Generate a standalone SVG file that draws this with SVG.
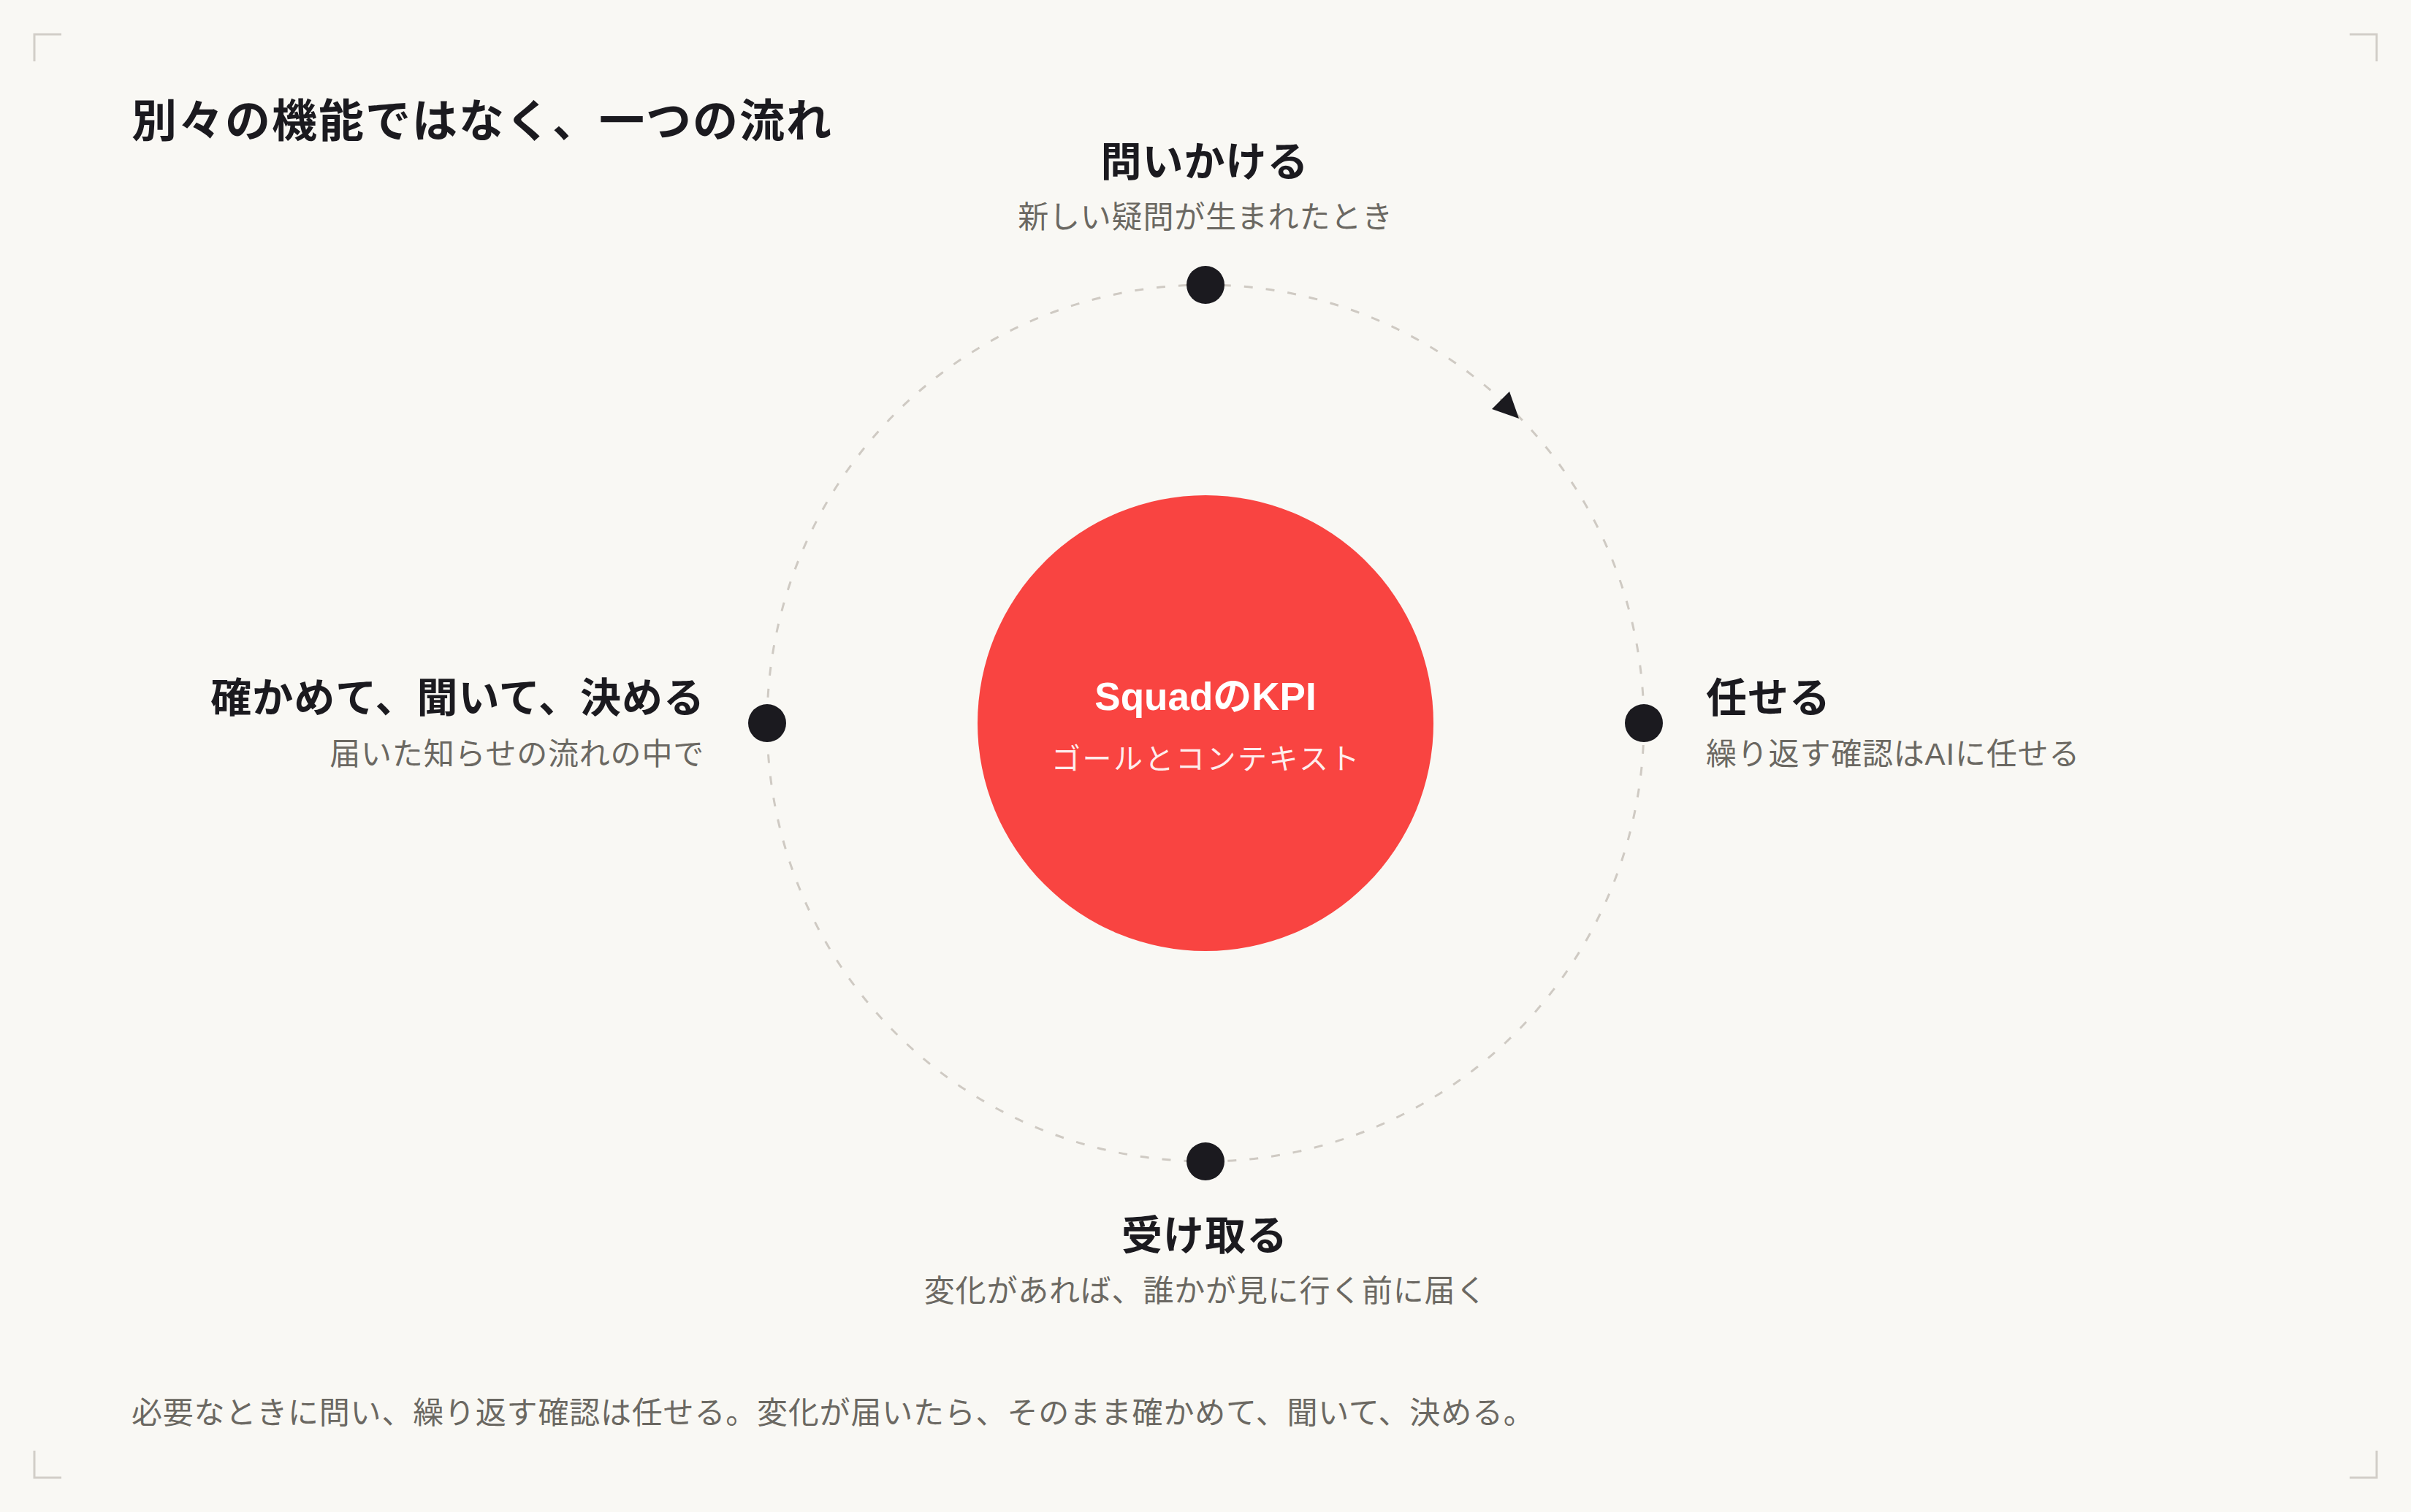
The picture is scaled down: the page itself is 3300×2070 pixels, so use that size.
<svg xmlns="http://www.w3.org/2000/svg" width="3300" height="2070" viewBox="0 0 3300 2070">
  <defs>
    <style>
      .bg { fill: #f9f8f4; }
      .corner { fill: none; stroke: #d2cec8; stroke-width: 3; }
      .ring { fill: none; stroke: #cfcac3; stroke-width: 3; stroke-dasharray: 12 18; }
      .dot { fill: #1b1a1f; }
      .arrow { fill: #1b1a1f; }
      .core { fill: #f94441; }
      .t { font-family: "Liberation Sans", "Noto Sans CJK JP", sans-serif; }
      .title { font-size: 62px; font-weight: 700; fill: #1b1a1f; letter-spacing: 2px; }
      .head { font-size: 56px; font-weight: 700; fill: #1b1a1f; letter-spacing: 1px; }
      .sub { font-size: 42px; font-weight: 400; fill: #6b6862; letter-spacing: 0.8px; }
      .coreTitle { font-size: 53px; font-weight: 700; fill: #ffffff; }
      .coreSub { font-size: 40px; font-weight: 400; fill: #ffffff; fill-opacity: 0.92; letter-spacing: 2.5px; }
      .caption { font-size: 42px; font-weight: 400; fill: #6b6862; letter-spacing: 0.8px; }
    </style>
  </defs>

  <rect class="bg" x="0" y="0" width="3300" height="2070"/>

  <g id="corners">
    <path class="corner" d="M47 84 V47 H84"/>
    <path class="corner" d="M3216 47 H3253 V84"/>
    <path class="corner" d="M47 1986 V2023 H84"/>
    <path class="corner" d="M3216 2023 H3253 V1986"/>
  </g>

  <text id="title" class="t title" x="180" y="188">別々の機能ではなく、一つの流れ</text>

  <g id="connectors">
    <circle class="ring" cx="1650" cy="990" r="600"/>
    <polygon class="arrow" points="2079,573 2066,536 2042,560"/>
  </g>

  <g id="core">
    <circle class="core" cx="1650" cy="990" r="312"/>
    <text class="t coreTitle" x="1650" y="972" text-anchor="middle">SquadのKPI</text>
    <text class="t coreSub" x="1651" y="1053" text-anchor="middle">ゴールとコンテキスト</text>
  </g>

  <g id="node-ask">
    <circle class="dot" cx="1650" cy="390" r="26"/>
    <text class="t head" x="1649" y="241" text-anchor="middle">問いかける</text>
    <text class="t sub" x="1650" y="312" text-anchor="middle">新しい疑問が生まれたとき</text>
  </g>

  <g id="node-delegate">
    <circle class="dot" cx="2250" cy="990" r="26"/>
    <text class="t head" x="2335" y="975">任せる</text>
    <text class="t sub" x="2335" y="1047">繰り返す確認はAIに任せる</text>
  </g>

  <g id="node-receive">
    <circle class="dot" cx="1650" cy="1590" r="26"/>
    <text class="t head" x="1649" y="1711" text-anchor="middle">受け取る</text>
    <text class="t sub" x="1650" y="1782" text-anchor="middle">変化があれば、誰かが見に行く前に届く</text>
  </g>

  <g id="node-decide">
    <circle class="dot" cx="1050" cy="990" r="26"/>
    <text class="t head" x="965" y="975" text-anchor="end">確かめて、聞いて、決める</text>
    <text class="t sub" x="964" y="1047" text-anchor="end">届いた知らせの流れの中で</text>
  </g>

  <text id="caption" class="t caption" x="180" y="1949">必要なときに問い、繰り返す確認は任せる。変化が届いたら、そのまま確かめて、聞いて、決める。</text>
</svg>
